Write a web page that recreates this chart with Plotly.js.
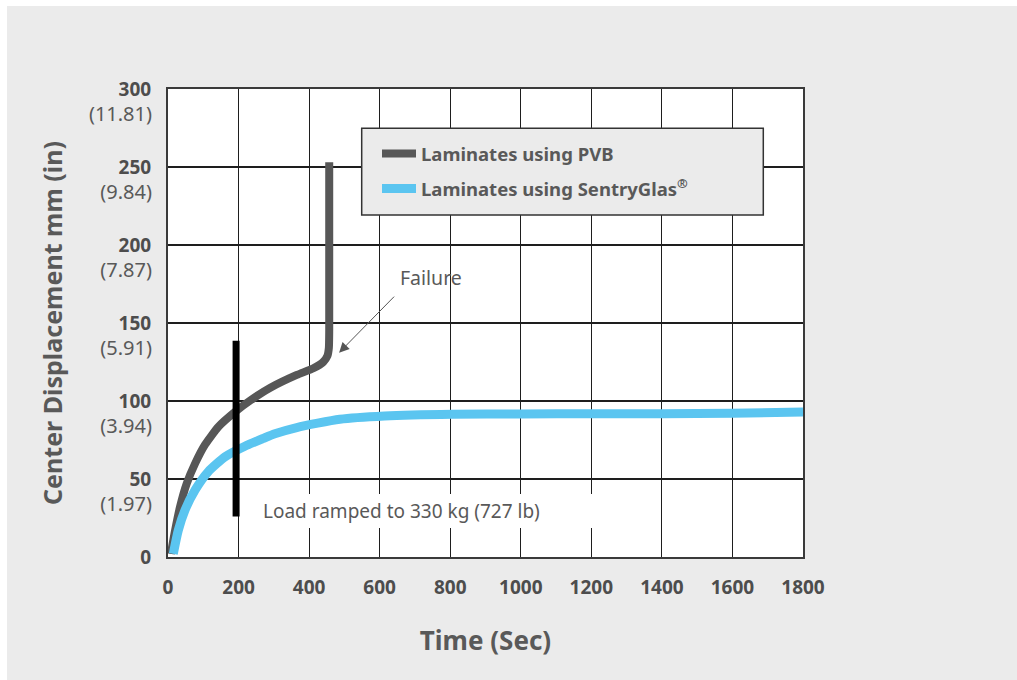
<!DOCTYPE html>
<html>
<head>
<meta charset="utf-8">
<script src="https://cdn.plot.ly/plotly-3.0.1.min.js"></script>
<style>
  html, body { margin: 0; padding: 0; background: #ffffff; }
  #chart { position: absolute; left: 7px; top: 6px; width: 1010px; height: 674px; }
</style>
</head>
<body>
<div id="chart"></div>
<script>
// ---- data ----
const pvbTime = [8, 20, 34, 53, 77, 105, 143, 190, 235, 290, 365, 412, 440, 452, 456, 457, 457];
const pvbDisp = [2, 17, 32, 47, 60, 72, 83.5, 93, 100.6, 108.5, 116.7, 121, 125, 129, 134, 145, 253];

const sgTime = [15, 29, 48, 77, 114, 162, 218, 270, 303, 365, 487, 614, 806, 1000, 1202, 1400, 1598, 1800];
const sgDisp = [2, 17, 30, 43, 54.7, 64.3, 71, 76, 79, 83, 88.3, 90.4, 91.5, 91.7, 91.8, 91.9, 92.1, 92.9];

const loadBarTime = [193, 193];
const loadBarDisp = [26, 138.6];

const seriesNames = ['Laminates using PVB', 'Laminates using SentryGlas<sup>®</sup>'];

const xTickVals = [0, 200, 400, 600, 800, 1000, 1200, 1400, 1600, 1800];
const xTickText = ['0', '200', '400', '600', '800', '1000', '1200', '1400', '1600', '1800'];

const yTickVals = [0, 50, 100, 150, 200, 250, 300];
const yTickMm = ['0', '50', '100', '150', '200', '250', '300'];
const yInTickVals = [50, 100, 150, 200, 250, 300];
const yTickIn = ['(1.97)', '(3.94)', '(5.91)', '(7.87)', '(9.84)', '(11.81)'];

const failureTime = 485;
const failureDisp = 131;
// ---------------------------------------

const FONT = 'Noto Sans';
const GREY = '#595959';

const traces = [
  {
    x: pvbTime, y: pvbDisp, name: seriesNames[0], type: 'scatter', mode: 'lines',
    line: { color: '#575757', width: 8, shape: 'spline', smoothing: 0.5 },
    legendgroup: 'a'
  },
  {
    x: sgTime, y: sgDisp, name: seriesNames[1], type: 'scatter', mode: 'lines',
    line: { color: '#5bc5f0', width: 9, shape: 'spline', smoothing: 0.6 },
    legendgroup: 'b'
  },
  {
    x: loadBarTime, y: loadBarDisp, yaxis: 'y2', type: 'scatter', mode: 'lines', showlegend: false,
    line: { color: '#000000', width: 7 }, hoverinfo: 'skip'
  }
];

const layout = {
  width: 1010, height: 674,
  margin: { l: 161, r: 214, t: 83, b: 123 },
  paper_bgcolor: '#ebebeb',
  plot_bgcolor: '#ffffff',
  font: { family: FONT, color: GREY },
  showlegend: true,
  legend: {
    x: (377 - 168) / 635, xanchor: 'left',
    y: (557 - 135) / 468, yanchor: 'top',
    bgcolor: 'rgba(0,0,0,0)', borderwidth: 0,
    font: { family: FONT, size: 18.5, color: GREY, weight: 'bold' },
    itemwidth: 34, tracegroupgap: 8, traceorder: 'grouped'
  },
  xaxis: {
    range: [0, 1800], tickmode: 'array', tickvals: xTickVals, ticktext: xTickText,
    showgrid: true, gridcolor: '#1e1e1e', gridwidth: 1.2,
    showline: true, linecolor: '#3a3a3a', linewidth: 2, mirror: true,
    zeroline: false, ticks: '', ticklabelstandoff: 12,
    tickfont: { family: FONT, size: 19, color: '#4d4d4d', weight: 'bold' },
    title: { text: 'Time (Sec)', standoff: 33, font: { family: FONT, size: 26, color: GREY, weight: 'bold' } }
  },
  yaxis: {
    range: [0, 300], tickmode: 'array', tickvals: yTickVals, ticktext: yTickMm,
    showgrid: true, gridcolor: '#1e1e1e', gridwidth: 1.2,
    showline: true, linecolor: '#3a3a3a', linewidth: 2, mirror: true,
    zeroline: false, ticks: '', ticklabelstandoff: 11,
    tickfont: { family: FONT, size: 19, color: '#4d4d4d', weight: 'bold' },
    title: { text: 'Center Displacement mm (in)', standoff: 49, font: { family: FONT, size: 25, color: GREY, weight: 'bold' } }
  },
  yaxis2: {
    overlaying: 'y', side: 'left', range: [0, 300],
    tickmode: 'array', tickvals: yInTickVals, ticktext: yTickIn,
    showgrid: false, showline: false, zeroline: false, ticks: '',
    ticklabelstandoff: 15, ticklabelshift: 25,
    tickfont: { family: FONT, size: 20, color: GREY }
  },
  shapes: [
    {
      type: 'rect', xref: 'paper', yref: 'paper', layer: 'above',
      x0: (361.7 - 168) / 635, x1: (763.3 - 168) / 635,
      y0: (557 - 215) / 468, y1: (557 - 128.3) / 468,
      fillcolor: '#ebebeb', line: { color: '#333333', width: 1.5 }
    },
    {
      type: 'rect', xref: 'x', yref: 'y', layer: 'above',
      x0: 218, x1: 1202, y0: 18.6, y1: 40.4,
      fillcolor: '#ffffff', line: { width: 0 }
    }
  ],
  annotations: [
    {
      x: 264, y: 29.7, xref: 'x', yref: 'y', xanchor: 'left', yanchor: 'middle',
      text: 'Load ramped to 330 kg (727 lb)', showarrow: false,
      font: { family: FONT, size: 19, color: GREY }
    },
    {
      x: failureTime, y: failureDisp, xref: 'x', yref: 'y',
      text: 'Failure', showarrow: true, ax: 55, ay: -56,
      xanchor: 'left', yanchor: 'bottom', borderpad: 5,
      font: { family: FONT, size: 19.5, color: GREY },
      arrowcolor: '#555555', arrowwidth: 1, arrowhead: 2, arrowsize: 2
    }
  ]
};

Plotly.newPlot('chart', traces, layout, { displayModeBar: false, staticPlot: true });
</script>
</body>
</html>
